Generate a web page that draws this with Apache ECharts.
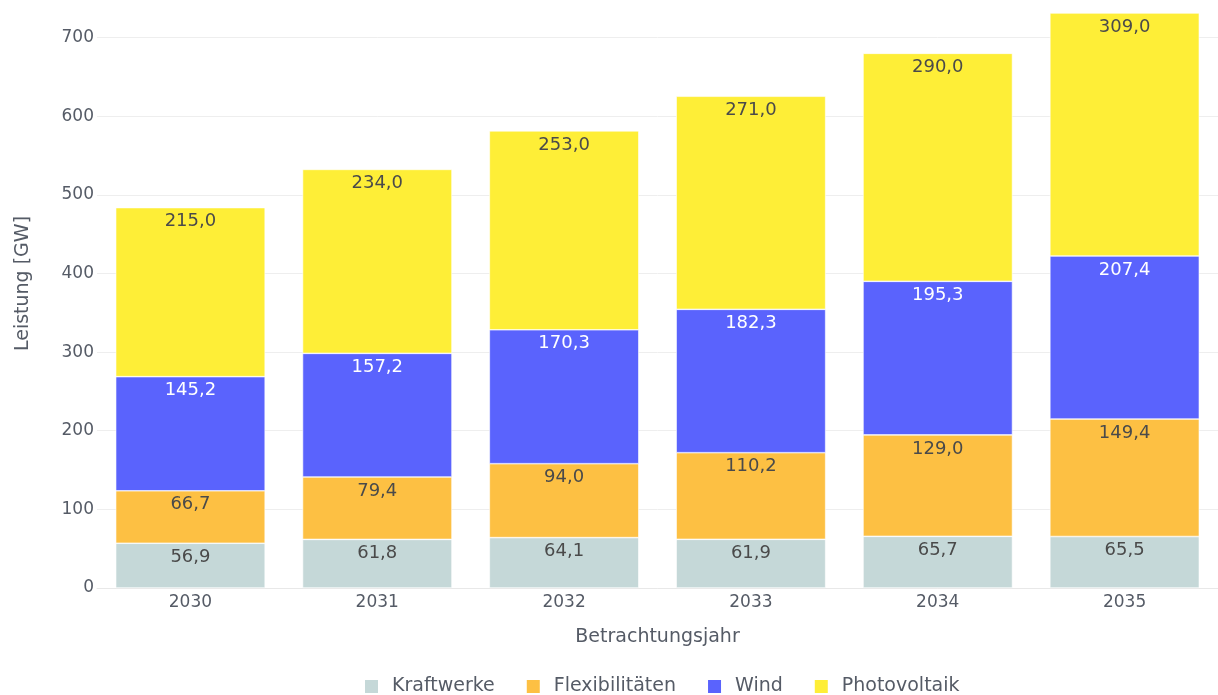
<!DOCTYPE html>
<html lang="de">
<head>
    <meta charset="utf-8">
    <title>Leistung nach Betrachtungsjahr</title>
    <script src="https://cdn.jsdelivr.net/npm/echarts@6/dist/echarts.min.js"></script>
    <style type="text/css">
        html, body {margin: 0; padding: 0; background: #fff;}
        #chart {width: 1218px; height: 695px;}
    </style>
</head>
<body>
    <div id="chart"></div>
    <script>
        var years = ['2030', '2031', '2032', '2033', '2034', '2035'];
        var kraftwerke = [56.9, 61.8, 64.1, 61.9, 65.7, 65.5];
        var flexibilitaeten = [66.7, 79.4, 94.0, 110.2, 129.0, 149.4];
        var wind = [145.2, 157.2, 170.3, 182.3, 195.3, 207.4];
        var photovoltaik = [215.0, 234.0, 253.0, 271.0, 290.0, 309.0];

        var font = 'DejaVu Sans, Verdana, sans-serif';
        var textGrey = '#555b66';
        var fmt = function (p) { return p.value.toFixed(1).replace('.', ','); };

        function serie(name, data, color, textColor) {
            return {
                name: name, type: 'bar', stack: 'total', data: data,
                barCategoryGap: '20%',
                itemStyle: {color: color, borderColor: '#fff', borderWidth: 0.6},
                label: {
                    show: true, position: 'insideTop', distance: 5,
                    formatter: fmt, color: textColor,
                    fontFamily: font, fontSize: 18
                },
                emphasis: {disabled: true}
            };
        }

        var chart = echarts.init(document.getElementById('chart'));
        chart.setOption({
            animation: false,
            textStyle: {fontFamily: font},
            grid: {left: 97, right: 0, top: 13, bottom: 107},
            legend: {
                top: 672, left: 358, itemWidth: 15, itemHeight: 15, itemGap: 30,
                icon: 'rect',
                textStyle: {color: textGrey, fontSize: 19, fontFamily: font, padding: [0, 0, 0, 8]},
                data: ['Kraftwerke', 'Flexibilitäten', 'Wind', 'Photovoltaik']
            },
            xAxis: {
                type: 'category', data: years,
                name: 'Betrachtungsjahr', nameLocation: 'middle', nameGap: 40,
                nameTextStyle: {color: textGrey, fontSize: 19},
                axisLine: {show: true, lineStyle: {color: '#e8e8e8'}},
                axisTick: {show: false},
                axisLabel: {color: textGrey, fontSize: 17, margin: 6}
            },
            yAxis: {
                type: 'value', min: 0, max: 731.3, interval: 100,
                name: 'Leistung [GW]', nameLocation: 'middle', nameGap: 64,
                nameTextStyle: {color: textGrey, fontSize: 19, padding: [0, 0, 0, 34]},
                axisLine: {show: false},
                axisTick: {show: false},
                axisLabel: {
                    color: textGrey, fontSize: 17, margin: 3, showMaxLabel: false,
                    formatter: function (v) { return v % 100 === 0 ? String(v) : ''; }
                },
                splitLine: {show: true, showMaxLine: false, lineStyle: {color: '#eeeeee'}}
            },
            series: [
                serie('Kraftwerke', kraftwerke, '#c5d8d8', '#4a4a4a'),
                serie('Flexibilitäten', flexibilitaeten, '#fdc043', '#4a4a4a'),
                serie('Wind', wind, '#5a63fd', '#ffffff'),
                serie('Photovoltaik', photovoltaik, '#feee37', '#4a4a4a')
            ]
        });
    </script>
</body>
</html>
